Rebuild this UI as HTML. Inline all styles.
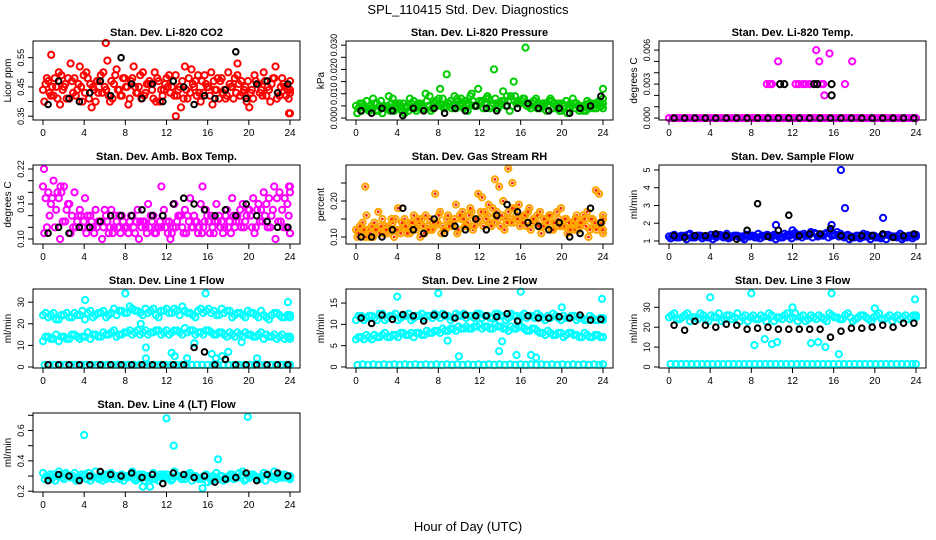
<!DOCTYPE html>
<html><head><meta charset="utf-8"><style>
html,body{margin:0;padding:0;background:#fff}
svg{display:block;font-family:"Liberation Sans",sans-serif}
</style></head><body>
<svg id="chart" width="936" height="540" viewBox="0 0 936 540">
<rect width="936" height="540" fill="#fff"/>
<text x="468" y="14" text-anchor="middle" font-size="13">SPL_110415  Std. Dev. Diagnostics</text>
<text x="468" y="531" text-anchor="middle" font-size="13">Hour of Day (UTC)</text>
</svg>
<script>
// ---- data ----
const xTicks = [0,4,8,12,16,20,24];

const co2RedA = [0.44,0.47,0.42,0.50,0.45,0.41,0.48,0.52,0.43,0.46,0.40,0.49,0.44,0.47,0.51,0.42,0.45,0.48,0.43,0.50,0.46,0.41,0.47,0.44,0.49,0.42,0.45,0.52,0.43,0.47,0.40,0.46,0.50,0.44,0.48,0.42,0.45,0.49,0.43,0.47,0.41,0.46,0.50,0.44,0.48,0.42,0.45,0.47];
const co2RedB = [0.40,0.43,0.48,0.39,0.46,0.53,0.42,0.45,0.50,0.38,0.47,0.43,0.54,0.41,0.44,0.48,0.39,0.52,0.45,0.42,0.47,0.50,0.40,0.46,0.43,0.49,0.38,0.44,0.51,0.42,0.47,0.45,0.39,0.48,0.43,0.50,0.41,0.46,0.44,0.38,0.49,0.43,0.47,0.40,0.52,0.45,0.42,0.36];
const co2RedC = [0.46,0.42,0.45,0.49,0.41,0.47,0.44,0.40,0.48,0.45,0.43,0.50,0.42,0.46,0.44,0.48,0.41,0.45,0.49,0.43,0.46,0.40,0.44,0.48,0.45,0.42,0.47,0.41,0.46,0.49,0.43,0.45,0.47,0.41,0.44,0.46,0.48,0.42,0.45,0.43,0.47,0.44,0.42,0.46,0.41,0.48,0.44,0.43];
const co2RedD = [0.48,0.45,0.41,0.44,0.48,0.43,0.46,0.49,0.41,0.44,0.47,0.45,0.40,0.49,0.42,0.45,0.47,0.43,0.41,0.46,0.44,0.48,0.42,0.45,0.47,0.44,0.41,0.48,0.45,0.43,0.49,0.42,0.44,0.47,0.41,0.45,0.43,0.47,0.40,0.44,0.46,0.42,0.45,0.48,0.43,0.46,0.41,0.44];
const co2OutHours = [0.8,6.1,12.9,18.9,23.9];
const co2OutVals = [0.56,0.60,0.35,0.53,0.36];
const co2Black = [0.39,0.47,0.41,0.40,0.43,0.47,0.42,0.55,0.46,0.41,0.46,0.40,0.47,0.45,0.39,0.42,0.41,0.44,0.57,0.41,0.46,0.47,0.43,0.46];

const presGreenA = [0.005,0.003,0.007,0.004,0.006,0.002,0.005,0.008,0.004,0.006,0.003,0.007,0.005,0.004,0.009,0.006,0.012,0.005,0.007,0.004,0.008,0.006,0.010,0.005,0.007,0.009,0.006,0.004,0.011,0.007,0.015,0.006,0.008,0.005,0.007,0.004,0.006,0.008,0.005,0.003,0.007,0.005,0.006,0.004,0.007,0.005,0.006,0.008];
const presGreenB = [0.002,0.006,0.004,0.008,0.003,0.005,0.009,0.003,0.006,0.002,0.008,0.004,0.006,0.010,0.003,0.007,0.005,0.018,0.004,0.008,0.006,0.003,0.007,0.012,0.004,0.008,0.020,0.005,0.007,0.003,0.009,0.006,0.029,0.004,0.008,0.005,0.003,0.007,0.004,0.006,0.002,0.008,0.005,0.003,0.006,0.004,0.007,0.012];
const presGreenC = [0.004,0.005,0.003,0.006,0.005,0.004,0.003,0.006,0.005,0.004,0.006,0.003,0.005,0.007,0.004,0.005,0.008,0.006,0.005,0.007,0.004,0.006,0.005,0.007,0.006,0.004,0.008,0.006,0.005,0.009,0.006,0.007,0.005,0.006,0.004,0.006,0.005,0.004,0.006,0.005,0.004,0.006,0.003,0.005,0.004,0.006,0.005,0.004];
const presGreenD = [0.006,0.004,0.005,0.003,0.007,0.004,0.006,0.005,0.003,0.005,0.004,0.006,0.004,0.005,0.006,0.008,0.004,0.006,0.009,0.005,0.007,0.009,0.005,0.006,0.008,0.005,0.006,0.007,0.009,0.005,0.007,0.008,0.006,0.007,0.006,0.005,0.007,0.006,0.003,0.005,0.006,0.004,0.005,0.003,0.006,0.004,0.005,0.006];
const presBlack = [0.003,0.002,0.004,0.003,0.001,0.004,0.003,0.004,0.002,0.004,0.003,0.005,0.004,0.003,0.005,0.004,0.006,0.004,0.003,0.004,0.002,0.004,0.005,0.009];

const tempMagZero = [0,0,0,0,0,0,0,0,0,0,0,0,0,0,0,0,0,0,0,0,0,0,0,0,0,0,0,0,0,0,0,0,0,0,0,0,0,0,0,0,0,0,0,0,0,0,0,0,0,0,0,0,0,0,0,0,0,0,0,0,0,0,0,0,0,0,0,0,0,0,0,0];
const tempMagHours = [9.5,9.8,10.0,10.6,12.3,12.6,13.0,13.3,13.7,14.3,14.6,14.8,15.0,15.1,15.6,17.1,17.8];
const tempMagVals = [0.003,0.003,0.003,0.005,0.003,0.003,0.003,0.003,0.003,0.006,0.005,0.003,0.003,0.002,0.0057,0.003,0.005];
const tempBlack = [0,0,0,0,0,0,0,0,0,0,0,0,0,0,0,0,0,0,0,0,0,0,0,0];
const tempBlackHours = [10.8,11.2,14.1,14.4,15.8,15.8];
const tempBlackVals = [0.003,0.003,0.003,0.003,0.003,0.002];

const ambMagA = [0.19,0.18,0.20,0.17,0.19,0.16,0.18,0.15,0.17,0.14,0.15,0.13,0.14,0.15,0.13,0.14,0.12,0.14,0.15,0.13,0.16,0.14,0.12,0.15,0.13,0.16,0.14,0.15,0.17,0.13,0.16,0.15,0.14,0.16,0.13,0.15,0.17,0.14,0.16,0.15,0.17,0.16,0.18,0.17,0.19,0.18,0.17,0.19];
const ambMagB = [0.11,0.14,0.12,0.10,0.13,0.11,0.12,0.14,0.11,0.13,0.12,0.10,0.13,0.11,0.12,0.13,0.11,0.12,0.10,0.13,0.12,0.11,0.13,0.12,0.10,0.12,0.14,0.11,0.12,0.13,0.11,0.14,0.12,0.13,0.11,0.12,0.14,0.13,0.12,0.15,0.11,0.13,0.14,0.12,0.10,0.13,0.12,0.11];
const ambMagC = [0.17,0.16,0.15,0.18,0.15,0.14,0.13,0.12,0.14,0.12,0.13,0.12,0.11,0.12,0.14,0.12,0.13,0.11,0.13,0.12,0.14,0.11,0.12,0.13,0.11,0.13,0.12,0.14,0.12,0.11,0.12,0.13,0.11,0.14,0.12,0.13,0.12,0.15,0.13,0.14,0.12,0.15,0.16,0.14,0.17,0.15,0.16,0.18];
const ambMagD = [0.12,0.17,0.18,0.13,0.16,0.12,0.14,0.13,0.12,0.11,0.13,0.15,0.12,0.14,0.11,0.12,0.14,0.13,0.12,0.11,0.13,0.12,0.14,0.11,0.12,0.14,0.11,0.13,0.14,0.12,0.13,0.11,0.13,0.12,0.14,0.11,0.13,0.12,0.14,0.12,0.15,0.13,0.12,0.15,0.13,0.12,0.14,0.11];
const ambOutHours = [0.1,1.7,11.5,15.5,23.9];
const ambOutVals = [0.22,0.19,0.19,0.19,0.19];
const ambBlack = [0.11,0.12,0.11,0.12,0.12,0.13,0.14,0.14,0.14,0.15,0.14,0.14,0.16,0.17,0.16,0.15,0.14,0.15,0.14,0.16,0.14,0.13,0.12,0.12];

const rhOrangeA = [0.12,0.11,0.16,0.13,0.12,0.15,0.11,0.14,0.18,0.13,0.12,0.16,0.14,0.11,0.15,0.13,0.17,0.12,0.14,0.19,0.15,0.13,0.17,0.14,0.21,0.16,0.18,0.15,0.20,0.17,0.14,0.19,0.16,0.18,0.15,0.17,0.13,0.16,0.14,0.18,0.15,0.13,0.16,0.14,0.17,0.15,0.13,0.16];
const rhOrangeB = [0.10,0.14,0.12,0.10,0.17,0.11,0.13,0.10,0.12,0.15,0.11,0.13,0.10,0.16,0.12,0.14,0.11,0.15,0.13,0.11,0.17,0.14,0.12,0.22,0.13,0.19,0.14,0.24,0.12,0.15,0.18,0.13,0.16,0.12,0.14,0.11,0.15,0.12,0.17,0.13,0.11,0.14,0.12,0.16,0.10,0.13,0.22,0.11];
const rhOrangeC = [0.11,0.12,0.10,0.14,0.11,0.13,0.12,0.15,0.11,0.13,0.14,0.12,0.15,0.13,0.12,0.14,0.13,0.16,0.14,0.12,0.15,0.16,0.13,0.15,0.17,0.14,0.16,0.13,0.15,0.14,0.16,0.15,0.13,0.14,0.16,0.13,0.14,0.12,0.15,0.13,0.14,0.12,0.13,0.15,0.12,0.14,0.13,0.12];
const rhOrangeD = [0.13,0.10,0.11,0.12,0.13,0.12,0.15,0.12,0.14,0.11,0.14,0.15,0.13,0.12,0.14,0.16,0.12,0.13,0.15,0.16,0.13,0.18,0.15,0.17,0.15,0.13,0.17,0.16,0.14,0.18,0.15,0.14,0.17,0.15,0.13,0.15,0.16,0.14,0.13,0.15,0.12,0.15,0.14,0.13,0.15,0.12,0.14,0.15];
const rhOutHours = [0.9,7.7,13.5,14.8,15.2,23.3];
const rhOutVals = [0.24,0.22,0.26,0.29,0.25,0.23];
const rhBlack = [0.10,0.10,0.10,0.12,0.18,0.12,0.11,0.15,0.11,0.13,0.12,0.15,0.12,0.16,0.19,0.17,0.14,0.13,0.12,0.14,0.10,0.11,0.18,0.14];

const flowBlueA = [1.25,1.35,1.2,1.3,1.4,1.2,1.3,1.25,1.35,1.2,1.3,1.4,1.25,1.3,1.2,1.35,1.3,1.4,1.25,1.3,1.35,1.2,1.4,1.3,1.45,1.35,1.3,1.5,1.4,1.35,1.45,1.3,1.5,1.25,1.35,1.2,1.3,1.4,1.25,1.3,1.2,1.35,1.3,1.25,1.4,1.2,1.3,1.35];
const flowBlueB = [1.15,1.2,1.3,1.1,1.2,1.3,1.15,1.2,1.1,1.3,1.2,1.15,1.3,1.2,1.1,1.25,1.2,1.15,1.3,1.2,1.1,1.2,1.3,1.15,1.25,1.2,1.3,1.2,1.25,1.3,1.2,1.35,1.25,1.2,1.1,1.2,1.15,1.25,1.1,1.2,1.15,1.1,1.25,1.2,1.1,1.2,1.15,1.25];
const flowBlueC = [1.3,1.2,1.25,1.35,1.2,1.3,1.25,1.2,1.3,1.35,1.25,1.2,1.3,1.25,1.35,1.3,1.2,1.3,1.35,1.25,1.3,1.2,1.35,1.4,1.3,1.4,1.35,1.45,1.3,1.4,1.5,1.35,1.4,1.3,1.25,1.3,1.2,1.35,1.3,1.2,1.3,1.35,1.25,1.3,1.2,1.3,1.25,1.3];
const flowOutHours = [10.4,12.0,15.8,16.7,17.1,20.8];
const flowOutVals = [1.9,1.6,1.9,5.0,2.85,2.3];
const flowBlack = [1.3,1.2,1.3,1.3,1.4,1.3,1.1,1.6,3.1,1.25,1.6,2.45,1.3,1.4,1.4,1.7,1.3,1.2,1.3,1.3,1.4,1.2,1.3,1.4];

const l1Top = [24,23,25,22,24,23,25,24,22,26,24,25,23,25,24,26,25,27,26,24,25,27,23,26,25,27,24,26,25,23,27,26,25,24,27,26,23,25,24,26,25,23,24,22,25,24,23,24];
const l1TopB = [25,24,22,24,25,23,24,26,25,23,25,26,24,27,26,25,28,26,25,27,26,24,26,27,25,26,28,25,24,26,25,27,26,24,25,26,24,25,23,25,24,26,23,24,25,23,24,23];
const l1Mid = [12,14,13,12,14,13,15,13,14,13,15,14,15,16,14,15,16,15,17,16,15,16,17,16,15,17,16,18,17,15,16,17,16,15,16,14,15,16,14,15,14,15,13,14,15,14,13,14];
const l1MidB = [14,13,15,14,13,15,14,14,16,15,14,16,15,17,15,16,17,16,15,17,16,17,15,17,16,17,15,16,17,16,15,17,15,16,15,16,14,15,16,15,14,16,15,14,13,15,14,13];
const l1Bot = [1,1,1,1,1,1,1,1,1,1,1,1,1,1,1,1,1,1,1,1,1,1,1,1,1,1,1,1,1,1,1,1,1,1,1,1,1,1,1,1,1,1,1,1,1,1,1,1];
const l1OutHours = [4.1,8.0,9.5,10.0,10.0,12.5,12.8,14.0,14.7,15.8,16.4,16.8,17.4,18.0,19.3,20.8,23.8];
const l1OutVals = [31,34,20,9,4,6.5,5,4,11,34,6,4,5,7,11.5,4,30];
const l1Black = [1,1,1,1,1,1,1,1,1,1,1,1,1,1,9,7,1,3.5,1,1,1,1,1,1];

const l2Top = [11,12,11.5,12,11,12.5,11.5,12,11,12,12.5,11.5,12,11.5,12,12.5,11.5,12,11,12.5,12,11.5,12,12.5,11.5,12,11.5,12.5,12,11.5,12,11,12.5,12,11.5,12,11,11.5,12,11,11.5,12,11,11.5,11,11.5,11,11.5];
const l2TopB = [12,11,12,11.5,12.5,11,12,12.5,11.5,12,11,12,12.5,12,11.5,12,12.5,12,11.5,12,12.5,12,11.5,12.5,12,11.5,12.5,12,11,12.5,12,12,11.5,12,12.5,11.5,12,12.5,11.5,12,11.5,12,11.5,11,12,11,11.5,11];
const l2Mid = [6.5,7,7.5,6.5,7,7.5,7,7.5,7,8,7.5,7,8,7.5,8,8.5,8,8.5,9,8.5,9,9.5,9,9.5,9,9.5,9,9.5,9,8.5,9,9.5,9,8.5,9,8,7.5,8,7.5,8,7.5,8,7.5,7,7.5,7,7.5,7];
const l2MidB = [7,6.5,7,7.5,7,8,7,7.5,8,7.5,8,8,7.5,8.5,8,8.5,9,8.5,9,9.5,9,9,9.5,10,9.5,9,10,9.5,9,9.5,9,9.5,8.5,9,8.5,8,8.5,7.5,8,7,8,7.5,7,8,7,7.5,7,7];
const l2Bot = [0.5,0.6,0.5,0.6,0.5,0.6,0.5,0.6,0.5,0.6,0.5,0.6,0.5,0.6,0.5,0.6,0.5,0.6,0.5,0.6,0.5,0.6,0.5,0.6,0.5,0.6,0.5,0.6,0.5,0.6,0.5,0.6,0.5,0.6,0.5,0.6,0.5,0.6,0.5,0.6,0.5,0.6,0.5,0.6,0.5,0.6,0.5,0.6];
const l2OutHours = [4.0,8.0,8.9,10.0,13.9,14.2,15.6,16.0,17.0,17.5,20.0,23.9];
const l2OutVals = [16.5,17.3,6.2,2.5,3.7,6,2.8,17.7,2.8,2.2,14,16];
const l2Black = [11.5,10.2,12.2,11.2,12.3,12,10.8,12.2,12.2,11.5,12.2,12,12,11.8,12.5,10.8,12,11.5,11.5,11.8,11.5,12.2,11,11.2];

const l3Top = [25,27,24,26,23,25,27,24,26,25,23,26,24,27,25,23,26,24,25,27,23,25,26,24,27,25,23,26,24,25,23,26,25,24,27,23,25,26,24,25,27,24,26,25,24,26,25,26];
const l3TopB = [26,24,25,27,25,24,26,23,25,27,24,26,25,23,26,25,24,26,23,26,25,24,27,25,23,26,24,25,26,24,27,25,24,26,25,24,26,25,23,26,24,25,23,26,25,24,26,25];
const l3Bot = [1.5,1.5,1.5,1.5,1.5,1.5,1.5,1.5,1.5,1.5,1.5,1.5,1.5,1.5,1.5,1.5,1.5,1.5,1.5,1.5,1.5,1.5,1.5,1.5,1.5,1.5,1.5,1.5,1.5,1.5,1.5,1.5,1.5,1.5,1.5,1.5,1.5,1.5,1.5,1.5,1.5,1.5,1.5,1.5,1.5,1.5,1.5,1.5];
const l3OutHours = [4.0,8.0,8.3,9.3,10.0,10.5,12.0,13.8,14.5,15.2,15.8,16.5,20.0,23.9];
const l3OutVals = [35,37,11,14,11.5,12.5,30,12,12.5,10,37,6.5,29.5,34];
const l3Black = [21,18.5,23,21,20,21.5,21,19,19.5,20,19,19,19,19,19,15,18,19.5,19.5,20,21,20,22,22];

const l4Cyan = [0.32,0.29,0.31,0.33,0.28,0.30,0.32,0.29,0.31,0.27,0.33,0.30,0.28,0.32,0.30,0.31,0.29,0.33,0.28,0.31,0.30,0.32,0.27,0.31,0.29,0.33,0.30,0.28,0.32,0.30,0.29,0.31,0.27,0.32,0.30,0.28,0.31,0.29,0.33,0.30,0.31,0.28,0.32,0.30,0.33,0.29,0.31,0.30];
const l4CyanB = [0.28,0.31,0.27,0.30,0.32,0.29,0.27,0.31,0.28,0.30,0.29,0.27,0.31,0.28,0.29,0.27,0.30,0.28,0.31,0.27,0.29,0.28,0.31,0.29,0.27,0.30,0.28,0.31,0.27,0.29,0.28,0.26,0.30,0.28,0.27,0.30,0.28,0.32,0.27,0.29,0.30,0.28,0.27,0.30,0.28,0.31,0.29,0.28];
const l4CyanC = [0.30,0.28,0.30,0.29,0.31,0.30,0.28,0.30,0.32,0.29,0.28,0.31,0.29,0.30,0.28,0.30,0.31,0.27,0.30,0.29,0.28,0.30,0.29,0.31,0.28,0.30,0.29,0.31,0.30,0.28,0.30,0.29,0.28,0.30,0.29,0.31,0.29,0.30,0.28,0.31,0.29,0.30,0.31,0.29,0.30,0.29,0.30,0.29];
const l4OutHours = [4.0,12.0,12.7,17.0,19.9,9.7,10.4,15.5];
const l4OutVals = [0.57,0.68,0.5,0.41,0.69,0.23,0.23,0.22];
const l4Black = [0.27,0.31,0.30,0.27,0.30,0.33,0.31,0.30,0.32,0.29,0.31,0.25,0.32,0.31,0.29,0.30,0.26,0.28,0.29,0.32,0.27,0.31,0.32,0.30];

// ---- layout / rendering ----
const NS = "http://www.w3.org/2000/svg";
const svg = document.getElementById('chart');
const RED="#ff0000", GREEN="#00cc00", MAG="#ff00ff", ORG="#ffa500", BLUE="#0000ff", CYAN="#00ffff", BLK="#000000";

const panels = [
 {name:"co2",title:"Stan. Dev. Li-820 CO2",ylab:"Licor ppm",col:0,row:0,y0:0.337,y1:0.607,ticks:[0.35,0.40,0.45,0.50,0.55],labels:["0.35","","0.45","","0.55"],
  series:[{v:co2RedA,c:RED,off:0},{v:co2RedB,c:RED,off:0.25},{v:co2RedC,c:RED,off:0.5},{v:co2RedD,c:RED,off:0.75},{h:co2OutHours,v:co2OutVals,c:RED},{v:co2Black,c:BLK,black:true}]},
 {name:"pressure",title:"Stan. Dev. Li-820 Pressure",ylab:"kPa",col:1,row:0,y0:-0.0008,y1:0.0317,ticks:[0,0.005,0.01,0.015,0.02,0.025,0.03],labels:["0.000","","0.010","","0.020","","0.030"],
  series:[{v:presGreenA,c:GREEN,off:0},{v:presGreenB,c:GREEN,off:0.25},{v:presGreenC,c:GREEN,off:0.5},{v:presGreenD,c:GREEN,off:0.75},{v:presBlack,c:BLK,black:true}]},
 {name:"temp",title:"Stan. Dev. Li-820 Temp.",ylab:"degrees C",col:2,row:0,y0:-0.00017,y1:0.0068,ticks:[0,0.001,0.002,0.003,0.004,0.005,0.006],labels:["0.000","","","0.003","","","0.006"],
  series:[{v:tempMagZero,c:MAG,off:0},{h:tempMagHours,v:tempMagVals,c:MAG},{v:tempBlack,c:BLK,black:true},{h:tempBlackHours,v:tempBlackVals,c:BLK}]},
 {name:"amb-box",title:"Stan. Dev. Amb. Box Temp.",ylab:"degrees C",col:0,row:1,y0:0.0914,y1:0.2269,ticks:[0.10,0.12,0.14,0.16,0.18,0.20,0.22],labels:["0.10","","","0.16","","","0.22"],
  series:[{v:ambMagA,c:MAG,off:0},{v:ambMagB,c:MAG,off:0.25},{v:ambMagC,c:MAG,off:0.5},{v:ambMagD,c:MAG,off:0.75},{h:ambOutHours,v:ambOutVals,c:MAG},{v:ambBlack,c:BLK,black:true}]},
 {name:"gas-rh",title:"Stan. Dev. Gas Stream RH",ylab:"percent",col:1,row:1,y0:0.0806,y1:0.30,ticks:[0.10,0.15,0.20,0.25],labels:["0.10","","0.20",""],
  series:[{v:rhOrangeA,c:ORG,dot:true,off:0},{v:rhOrangeB,c:ORG,dot:true,off:0.25},{v:rhOrangeC,c:ORG,dot:true,off:0.5},{v:rhOrangeD,c:ORG,dot:true,off:0.75},{h:rhOutHours,v:rhOutVals,c:ORG,dot:true},{v:rhBlack,c:BLK,black:true}]},
 {name:"sample-flow",title:"Stan. Dev. Sample Flow",ylab:"ml/min",col:2,row:1,y0:0.83,y1:5.28,ticks:[1,2,3,4,5],labels:["1","2","3","4","5"],
  series:[{v:flowBlueA,c:BLUE,off:0},{v:flowBlueB,c:BLUE,off:0.33},{v:flowBlueC,c:BLUE,off:0.66},{h:flowOutHours,v:flowOutVals,c:BLUE},{v:flowBlack,c:BLK,black:true}]},
 {name:"line1",title:"Stan. Dev. Line 1 Flow",ylab:"ml/min",col:0,row:2,y0:-0.47,y1:36.1,ticks:[0,10,20,30],labels:["0","10","20","30"],
  series:[{v:l1Top,c:CYAN,off:0},{v:l1TopB,c:CYAN,off:0.5},{v:l1Mid,c:CYAN,off:0},{v:l1MidB,c:CYAN,off:0.5},{v:l1Bot,c:CYAN,off:0.3},{h:l1OutHours,v:l1OutVals,c:CYAN},{v:l1Black,c:BLK,black:true}]},
 {name:"line2",title:"Stan. Dev. Line 2 Flow",ylab:"ml/min",col:1,row:2,y0:-0.24,y1:18.3,ticks:[0,5,10,15],labels:["0","5","10","15"],
  series:[{v:l2Top,c:CYAN,off:0},{v:l2TopB,c:CYAN,off:0.5},{v:l2Mid,c:CYAN,off:0},{v:l2MidB,c:CYAN,off:0.5},{v:l2Bot,c:CYAN,off:0.3},{h:l2OutHours,v:l2OutVals,c:CYAN},{v:l2Black,c:BLK,black:true}]},
 {name:"line3",title:"Stan. Dev. Line 3 Flow",ylab:"ml/min",col:2,row:2,y0:-0.5,y1:39.2,ticks:[0,10,20,30],labels:["0","10","20","30"],
  series:[{v:l3Top,c:CYAN,off:0},{v:l3TopB,c:CYAN,off:0.5},{v:l3Bot,c:CYAN,off:0.3},{h:l3OutHours,v:l3OutVals,c:CYAN},{v:l3Black,c:BLK,black:true}]},
 {name:"line4",title:"Stan. Dev. Line 4 (LT) Flow",ylab:"ml/min",col:0,row:3,y0:0.195,y1:0.715,ticks:[0.2,0.3,0.4,0.5,0.6,0.7],labels:["0.2","","0.4","","0.6",""],
  series:[{v:l4Cyan,c:CYAN,off:0},{v:l4CyanB,c:CYAN,off:0.33},{v:l4CyanC,c:CYAN,off:0.66},{h:l4OutHours,v:l4OutVals,c:CYAN},{v:l4Black,c:BLK,black:true}]}
];

const rowTops=[41,165,289,413], boxH=79, colOff=313;

function mk(tag, attrs, parent){
  const e=document.createElementNS(NS,tag);
  for(const k in attrs) e.setAttribute(k,attrs[k]);
  (parent||svg).appendChild(e); return e;
}

panels.forEach(p=>{
  const left=33+p.col*colOff, right=300+p.col*colOff, top=rowTops[p.row], bot=top+boxH;
  const xs = h => (43+p.col*colOff) + h*(247/24);
  const ys = v => bot - (v-p.y0)/(p.y1-p.y0)*boxH;
  const g=mk('g',{});
  
  
  const t=mk('text',{x:(left+right)/2,y:top-5,'text-anchor':'middle','font-size':11,'font-weight':'bold'},g);
  t.textContent=p.title;
  
  
  const yl=mk('text',{x:0,y:0,'text-anchor':'middle','font-size':10,transform:`translate(${left-22},${(top+bot)/2}) rotate(-90)`},g);
  yl.textContent=p.ylab;
  
  
  const pts=mk('g',{fill:'none','stroke-width':2},g);
  
  
  p.series.forEach(s=>{
    s.v.forEach((val,i)=>{
      let h;
      if(s.h) h=s.h[i];
      else if(s.black) h=0.5+i*(23.3/(s.v.length-1));
      else h=Math.min(24,(i+(s.off||0))*(24/(s.v.length-1)));
      const c=mk('circle',{cx:xs(h).toFixed(1),cy:ys(val).toFixed(1),r:s.black?2.8:3.1,stroke:s.c},pts);
      
      
      if(s.dot){
        const d=mk('circle',{cx:xs(h).toFixed(1),cy:ys(val).toFixed(1),r:1.4,fill:'#ff2000',stroke:'none'},pts);
        
        
      }
    });
  });
  const b=mk('rect',{x:left,y:top,width:right-left,height:boxH,fill:'none',stroke:'#000','stroke-width':1},g);
  
  
  const xa=mk('g',{'font-size':10,'text-anchor':'middle'},g);
  
  
  xTicks.forEach(tv=>{
    const x=xs(tv);
    mk('line',{x1:x,x2:x,y1:bot,y2:bot+5,stroke:'#000'},xa);
    const tx=mk('text',{x:x,y:bot+16},xa); tx.textContent=tv;
    
    
  });
  const ya=mk('g',{'font-size':9,'text-anchor':'middle'},g);
  
  
  p.ticks.forEach((tv,i)=>{
    const y=ys(tv);
    mk('line',{x1:left-5,x2:left,y1:y,y2:y,stroke:'#000'},ya);
    if(p.labels[i]){
      const tx=mk('text',{x:0,y:0,transform:`translate(${left-9},${y}) rotate(-90)`},ya);
      tx.textContent=p.labels[i];
      
      
    }
  });
});
</script>
</body></html>
